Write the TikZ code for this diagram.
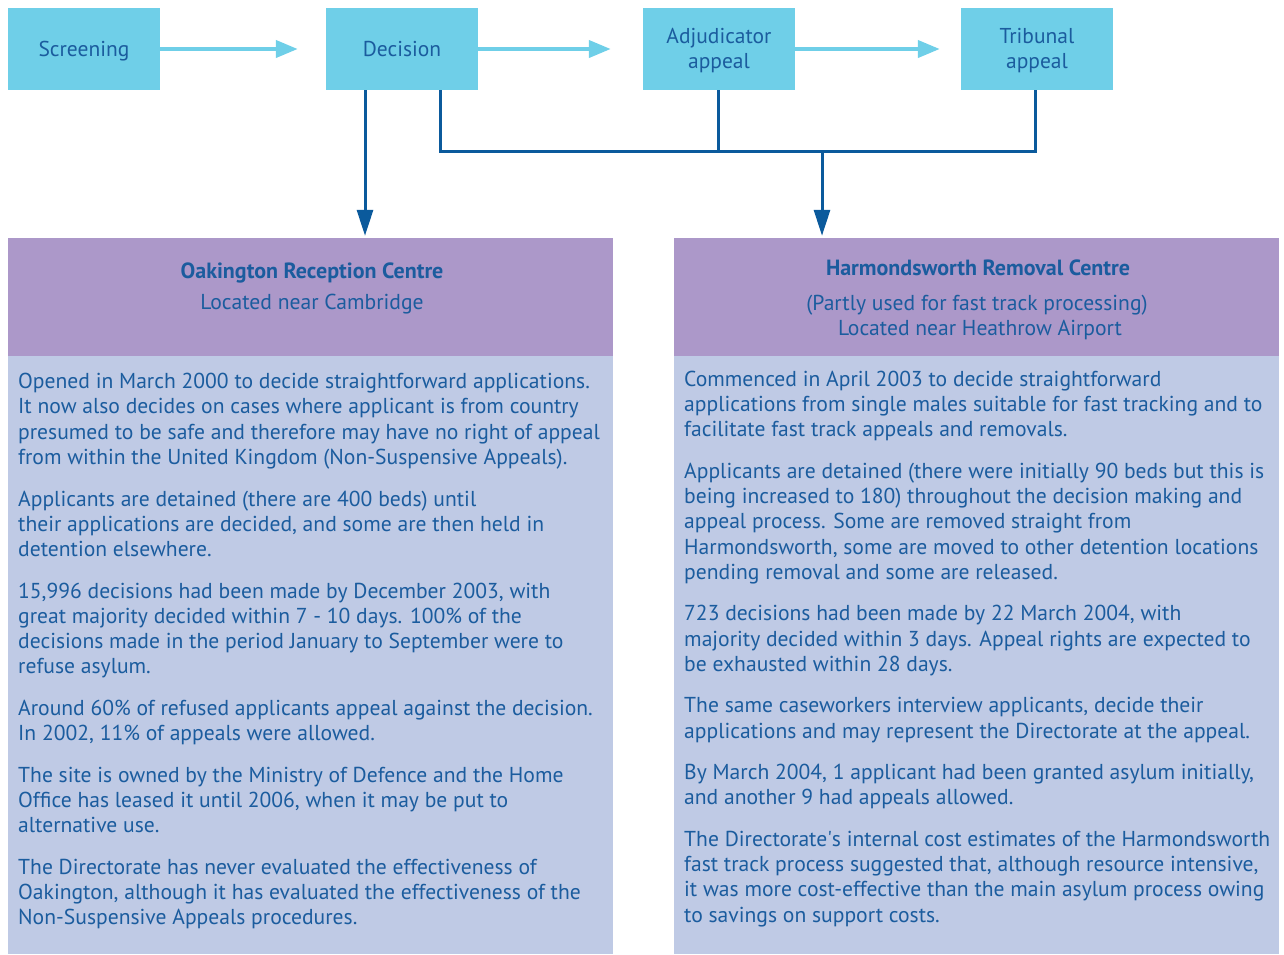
\documentclass[tikz,border=0pt]{standalone}
\usepackage{fontspec}
\setmainfont{PT Sans}
\usetikzlibrary{arrows.meta}
\definecolor{cy}{HTML}{6FCFE8}
\definecolor{dk}{HTML}{0B5A9C}
\definecolor{pu}{HTML}{AC98C9}
\definecolor{lb}{HTML}{BFCAE5}
\definecolor{tc}{HTML}{1B5C9E}
\newcommand{\lowr}[1]{\raisebox{-2pt}[\height][\depth]{#1}}
\begin{document}
\begin{tikzpicture}[x=1pt,y=-1pt,
 stage/.style={fill=cy,minimum width=152pt,minimum height=82pt,inner sep=0,text=tc,font=\fontsize{21.5}{25}\selectfont},
 ltarrow/.style={draw=cy,line width=4pt,-{Triangle[length=22pt,width=17pt]}},
 dkline/.style={draw=dk,line width=3pt},
 dkarrow/.style={dkline,-{Triangle[length=26pt,width=16pt]}},
 hdr/.style={fill=pu,minimum width=605pt,minimum height=118pt,inner sep=0},
 bdy/.style={fill=lb,minimum width=605pt,minimum height=598pt,inner sep=0},
 txt/.style={anchor=base west,inner sep=0,text=tc,font=\fontsize{21.6}{25}\selectfont},
 ttl/.style={anchor=base,inner sep=0,text=tc,font=\fontsize{22}{25}\selectfont\bfseries},
 sub/.style={anchor=base,inner sep=0,text=tc,font=\fontsize{21.6}{25}\selectfont}]
\useasboundingbox (0,0) rectangle (1284,954);

% stages
\node[stage] (scr) at (84,49) {\lowr{Screening}};
\node[stage] (dec) at (402,49) {Decision};
\node[stage] (adj) at (719,49) {\lowr{\begin{tabular}{@{}c@{}}Adjudicator\\appeal\end{tabular}}};
\node[stage] (trib) at (1037,49) {\lowr{\begin{tabular}{@{}c@{}}Tribunal\\appeal\end{tabular}}};

% centre boxes
\node[hdr] (oakh) at (310.5,297) {};
\node[bdy] (oakb) at (310.5,655) {};
\node[hdr] (harh) at (976.5,297) {};
\node[bdy] (harb) at (976.5,655) {};

% light arrows
\draw[ltarrow,shorten >=28pt] (scr.east) -- (dec.west);
\draw[ltarrow,shorten >=32pt] (dec.east) -- (adj.west);
\draw[ltarrow,shorten >=21pt] (adj.east) -- (trib.west);

% dark connectors
\coordinate (j) at (822,151);
\draw[dkarrow,shorten >=2pt] ([xshift=-37pt]dec.south) -- ([xshift=-37pt]dec.south |- oakh.north);
\draw[dkline] ([xshift=38pt]dec.south) |- (j) -| ([xshift=-2pt]trib.south);
\draw[dkline] ([xshift=-1pt]adj.south) -- ([xshift=-1pt]adj.south |- j);
\draw[dkarrow,shorten >=2pt] (j) -- (j |- harh.north);

% headers
\node[ttl] (oakt) at (312,278) {Oakington Reception Centre};
\node[sub] (oaks) at (312,309) {Located near Cambridge};
\node[ttl] (hart) at (978,275) {Harmondsworth Removal Centre};
\node[sub] (hars1) at (977,310) {(Partly used for fast track processing)};
\node[sub] (hars2) at (980,335) {Located near Heathrow Airport};

% left body
\node[txt] (l1) at (18,388) {Opened in March 2000 to decide straightforward applications.};
\node[txt] (l2) at (18,413) {It now also decides on cases where applicant is from country};
\node[txt] (l3) at (18,439) {presumed to be safe and therefore may have no right of appeal};
\node[txt] (l4) at (18,464) {from within the United Kingdom (Non-Suspensive Appeals).};
\node[txt] (l5) at (18,506) {Applicants are detained (there are 400 beds) until};
\node[txt] (l6) at (18,531) {their applications are decided, and some are then held in};
\node[txt] (l7) at (18,556) {detention elsewhere.};
\node[txt] (l8) at (18,598) {15,996 decisions had been made by December 2003, with};
\node[txt] (l9) at (18,623) {great majority decided within 7 - 10 days. 100\% of the};
\node[txt] (l10) at (18,648) {decisions made in the period January to September were to};
\node[txt] (l11) at (18,673) {refuse asylum.};
\node[txt] (l12) at (18,715) {Around 60\% of refused applicants appeal against the decision.};
\node[txt] (l13) at (18,740) {In 2002, 11\% of appeals were allowed.};
\node[txt] (l14) at (18,782) {The site is owned by the Ministry of Defence and the Home};
\node[txt] (l15) at (18,807) {Office has leased it until 2006, when it may be put to};
\node[txt] (l16) at (18,832) {alternative use.};
\node[txt] (l17) at (18,874) {The Directorate has never evaluated the effectiveness of};
\node[txt] (l18) at (18,899) {Oakington, although it has evaluated the effectiveness of the};
\node[txt] (l19) at (18,924) {Non-Suspensive Appeals procedures.};

% right body
\node[txt] (r1) at (684,386) {Commenced in April 2003 to decide straightforward};
\node[txt] (r2) at (684,411) {applications from single males suitable for fast tracking and to};
\node[txt] (r3) at (684,436) {facilitate fast track appeals and removals.};
\node[txt] (r4) at (684,478) {Applicants are detained (there were initially 90 beds but this is};
\node[txt] (r5) at (684,503) {being increased to 180) throughout the decision making and};
\node[txt] (r6) at (684,528) {appeal process. Some are removed straight from};
\node[txt] (r7) at (684,554) {Harmondsworth, some are moved to other detention locations};
\node[txt] (r8) at (684,579) {pending removal and some are released.};
\node[txt] (r9) at (684,620) {723 decisions had been made by 22 March 2004, with};
\node[txt] (r10) at (684,646) {majority decided within 3 days. Appeal rights are expected to};
\node[txt] (r11) at (684,671) {be exhausted within 28 days.};
\node[txt] (r12) at (684,712) {The same caseworkers interview applicants, decide their};
\node[txt] (r13) at (684,738) {applications and may represent the Directorate at the appeal.};
\node[txt] (r14) at (684,779) {By March 2004, 1 applicant had been granted asylum initially,};
\node[txt] (r15) at (684,804) {and another 9 had appeals allowed.};
\node[txt] (r16) at (684,846) {The Directorate\textquotesingle s internal cost estimates of the Harmondsworth};
\node[txt] (r17) at (684,871) {fast track process suggested that, although resource intensive,};
\node[txt] (r18) at (684,896) {it was more cost-effective than the main asylum process owing};
\node[txt] (r19) at (684,922) {to savings on support costs.};
\end{tikzpicture}
\end{document}
